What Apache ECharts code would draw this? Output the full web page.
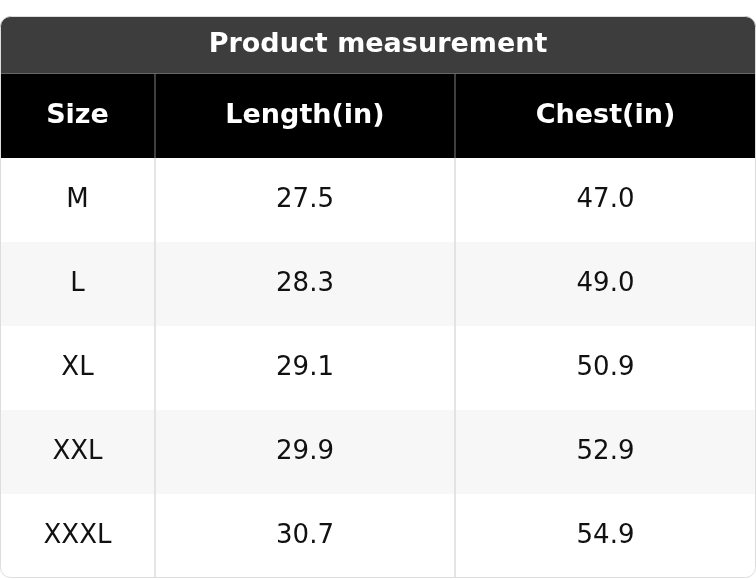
<!DOCTYPE html>
<html><head><meta charset="utf-8">
<script src="https://cdn.jsdelivr.net/npm/echarts@6/dist/echarts.min.js"></script>
<style>html,body{margin:0;padding:0;background:#fff}#c{width:756px;height:580px}</style>
</head><body><div id="c"></div>
<script>
const title = "Product measurement";
const headers = ["Size", "Length(in)", "Chest(in)"];
const sizes = ["M", "L", "XL", "XXL", "XXXL"];
const lengths = ["27.5", "28.3", "29.1", "29.9", "30.7"];
const chests = ["47.0", "49.0", "50.9", "52.9", "54.9"];

const colEdges = [0, 155, 455, 756];
const top0 = 16, titleH = 57, headH = 85, rowH = 84;
const font = "DejaVu Sans";

const chart = echarts.init(document.getElementById('c'));
const items = [{value:[-2]},{value:[-1]}].concat(sizes.map((s,i)=>({value:[i]})));

function renderItem(params, api) {
  const r = api.value(0);
  const P = (x,y)=>api.coord([x,y]);
  const children = [];
  if (r === -2) {
    const a = P(0, top0), b = P(756, top0+titleH);
    children.push({type:'rect', shape:{x:a[0],y:a[1],width:b[0]-a[0],height:b[1]-a[1],r:[12,12,0,0]}, style:{fill:'#3d3d3d'}});
    children.push({type:'text', style:{text:title,x:(a[0]+b[0])/2,y:(a[1]+b[1])/2,align:'center',verticalAlign:'middle',fill:'#fff',font:'bold 27px '+font}});
    return {type:'group', children};
  }
  let y0, h, fill, cells, tf;
  if (r === -1) { y0 = top0+titleH; h = headH; fill = '#000'; cells = headers; tf = {fill:'#fff', font:'bold 27px '+font}; }
  else { y0 = top0+titleH+headH+r*rowH; h = rowH; fill = r%2 ? '#f7f7f7' : '#fff'; cells=[sizes[r],lengths[r],chests[r]]; tf={fill:'#111',font:'26px '+font}; }
  const a = P(0,y0), b = P(756,y0+h);
  children.push({type:'rect', shape:{x:a[0],y:a[1],width:b[0]-a[0],height:b[1]-a[1], r: r===sizes.length-1?[0,0,8,8]:0}, style:{fill}});
  for (let c=0;c<3;c++){
    const x1=P(colEdges[c],0)[0], x2=P(colEdges[c+1],0)[0];
    children.push({type:'text', style:Object.assign({text:cells[c],x:(x1+x2)/2,y:(a[1]+b[1])/2,align:'center',verticalAlign:'middle'},tf)});
    if (c>0) children.push({type:'line', shape:{x1:x1,y1:a[1],x2:x1,y2:b[1]}, style:{stroke: r===-1?'#555':'#dddddd', lineWidth:1.5}});
  }
  if (r === -1) children.push({type:'line', shape:{x1:a[0],y1:a[1]+0.5,x2:b[0],y2:a[1]+0.5}, style:{stroke:'#666',lineWidth:1}});
  if (r === sizes.length-1) children.push({type:'rect', shape:{x:a[0]+0.5,y:P(0,top0)[1]+0.5,width:b[0]-a[0]-1,height:b[1]-P(0,top0)[1]-1,r:10}, style:{fill:'none',stroke:'#dddddd',lineWidth:1}});
  return {type:'group', children};
}

chart.setOption({
  animation:false,
  grid:{left:0,right:0,top:0,bottom:0},
  xAxis:{type:'value',min:0,max:756,show:false},
  yAxis:{type:'value',min:0,max:580,inverse:true,show:false},
  series:[{type:'custom',renderItem,data:items,clip:false}]
});
</script></body></html>
